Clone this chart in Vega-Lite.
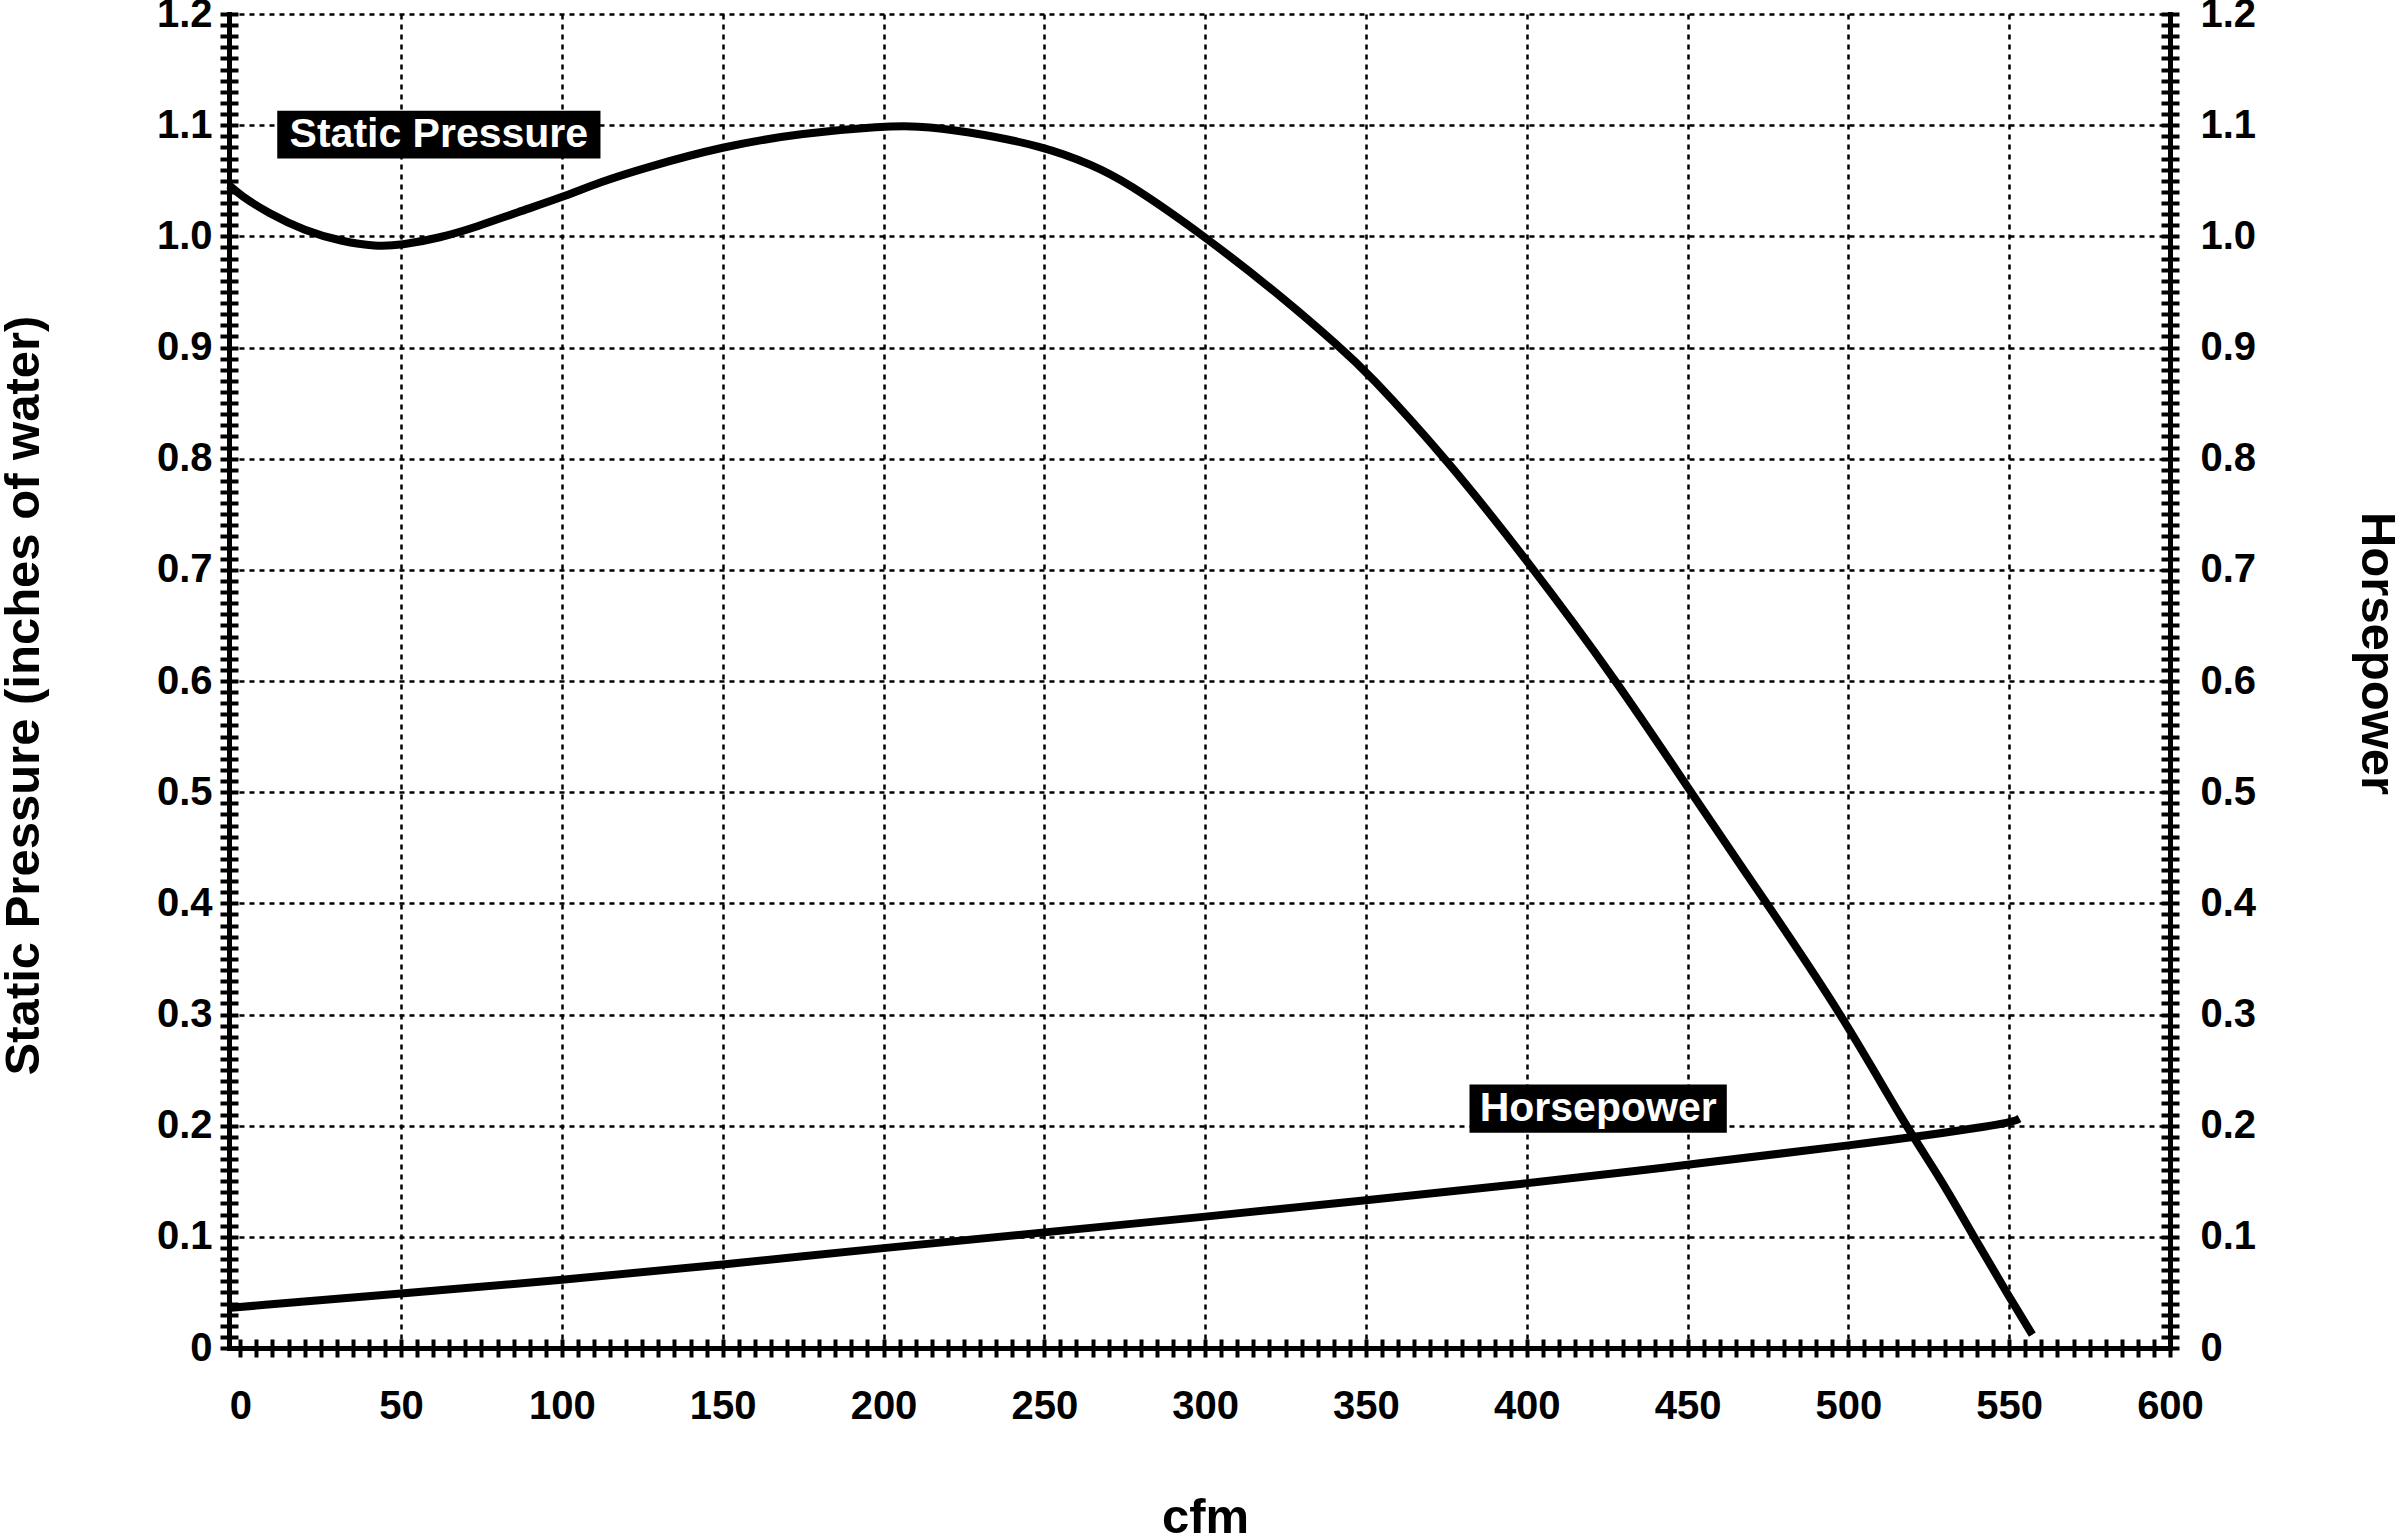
{
  "$schema": "https://vega.github.io/schema/vega-lite/v6.json",
  "autosize": {"type": "none"},
  "padding": {"left": 229, "top": 14, "right": 231, "bottom": 189},
  "width": 1941,
  "height": 1334,
  "background": "white",
  "config": {
    "font": "Liberation Sans",
    "view": {"stroke": null},
    "axis": {
      "domainColor": "black", "domainWidth": 5, "domainCap": "square",
      "tickColor": "black", "tickWidth": 4,
      "gridColor": "black", "gridWidth": 2.5, "gridDash": [5, 5],
      "labelFont": "Liberation Sans", "labelFontSize": 40, "labelFontWeight": "bold", "labelColor": "black",
      "labelOverlap": false, "labelFlush": false,
      "titleFont": "Liberation Sans", "titleFontSize": 49, "titleFontWeight": "bold", "titleColor": "black"
    }
  },
  "datasets": {
    "sp": [
      {"cfm": -3.5, "value": 1.046}, {"cfm": 0, "value": 1.037}, {"cfm": 8.6, "value": 1.021},
      {"cfm": 20, "value": 1.005}, {"cfm": 32, "value": 0.995}, {"cfm": 42, "value": 0.991},
      {"cfm": 50, "value": 0.992}, {"cfm": 62, "value": 0.9985}, {"cfm": 74, "value": 1.009},
      {"cfm": 86, "value": 1.0215}, {"cfm": 100, "value": 1.035}, {"cfm": 112, "value": 1.049},
      {"cfm": 125, "value": 1.061}, {"cfm": 150, "value": 1.081}, {"cfm": 175, "value": 1.093},
      {"cfm": 200, "value": 1.099}, {"cfm": 210, "value": 1.0995}, {"cfm": 225, "value": 1.095},
      {"cfm": 250, "value": 1.081}, {"cfm": 265, "value": 1.064}, {"cfm": 275, "value": 1.05},
      {"cfm": 300, "value": 1.0}, {"cfm": 325, "value": 0.943}, {"cfm": 342, "value": 0.9},
      {"cfm": 350, "value": 0.879}, {"cfm": 375, "value": 0.8}, {"cfm": 400, "value": 0.709},
      {"cfm": 428, "value": 0.6}, {"cfm": 451, "value": 0.5}, {"cfm": 474.6, "value": 0.4},
      {"cfm": 498, "value": 0.3}, {"cfm": 517.7, "value": 0.2}, {"cfm": 528.6, "value": 0.153},
      {"cfm": 539, "value": 0.1}, {"cfm": 550, "value": 0.046}, {"cfm": 557.2, "value": 0.012}
    ],
    "hp": [
      {"cfm": -3.5, "value": 0.036}, {"cfm": 0, "value": 0.037}, {"cfm": 50, "value": 0.049},
      {"cfm": 100, "value": 0.061}, {"cfm": 150, "value": 0.075}, {"cfm": 200, "value": 0.09},
      {"cfm": 250, "value": 0.104}, {"cfm": 300, "value": 0.118}, {"cfm": 350, "value": 0.133},
      {"cfm": 400, "value": 0.148}, {"cfm": 438, "value": 0.1605}, {"cfm": 450, "value": 0.165},
      {"cfm": 500, "value": 0.1818}, {"cfm": 550, "value": 0.2015}, {"cfm": 553.2, "value": 0.2064}
    ],
    "labels": [
      {"label": "Static Pressure", "x1": 11.5, "x2": 112, "y1": 1.07, "y2": 1.113, "tx": 61.75, "ty": 1.0915},
      {"label": "Horsepower", "x1": 382.2, "x2": 462.2, "y1": 0.1936, "y2": 0.237, "tx": 422.2, "ty": 0.2153}
    ]
  },
  "resolve": {"axis": {"x": "independent", "y": "independent"}},
  "layer": [
    {
      "data": {"name": "sp"},
      "mark": {"type": "line", "color": "black", "strokeWidth": 8, "interpolate": "basis"},
      "encoding": {
        "x": {
          "field": "cfm", "type": "quantitative",
          "scale": {"domain": [-3.5, 600], "nice": false, "zero": false},
          "axis": {
            "orient": "bottom",
            "values": [0,5,10,15,20,25,30,35,40,45,50,55,60,65,70,75,80,85,90,95,100,105,110,115,120,125,130,135,140,145,150,155,160,165,170,175,180,185,190,195,200,205,210,215,220,225,230,235,240,245,250,255,260,265,270,275,280,285,290,295,300,305,310,315,320,325,330,335,340,345,350,355,360,365,370,375,380,385,390,395,400,405,410,415,420,425,430,435,440,445,450,455,460,465,470,475,480,485,490,495,500,505,510,515,520,525,530,535,540,545,550,555,560,565,570,575,580,585,590,595,600],
            "domain": true, "ticks": true, "tickSize": 9,
            "grid": true,
            "gridOpacity": {"condition": {"test": "datum.value % 50 != 0 || datum.value == 0", "value": 0}, "value": 1},
            "labelExpr": "datum.value % 50 == 0 ? datum.label : ''",
            "labelPadding": 29,
            "title": "cfm", "titleX": 976, "titleY": 184, "titleBaseline": "alphabetic", "titleAlign": "center"
          }
        },
        "y": {
          "field": "value", "type": "quantitative",
          "scale": {"domain": [0, 1.2], "nice": false, "zero": false},
          "axis": {
            "orient": "left",
            "values": [0,0.01,0.02,0.03,0.04,0.05,0.06,0.07,0.08,0.09,0.1,0.11,0.12,0.13,0.14,0.15,0.16,0.17,0.18,0.19,0.2,0.21,0.22,0.23,0.24,0.25,0.26,0.27,0.28,0.29,0.3,0.31,0.32,0.33,0.34,0.35,0.36,0.37,0.38,0.39,0.4,0.41,0.42,0.43,0.44,0.45,0.46,0.47,0.48,0.49,0.5,0.51,0.52,0.53,0.54,0.55,0.56,0.57,0.58,0.59,0.6,0.61,0.62,0.63,0.64,0.65,0.66,0.67,0.68,0.69,0.7,0.71,0.72,0.73,0.74,0.75,0.76,0.77,0.78,0.79,0.8,0.81,0.82,0.83,0.84,0.85,0.86,0.87,0.88,0.89,0.9,0.91,0.92,0.93,0.94,0.95,0.96,0.97,0.98,0.99,1.0,1.01,1.02,1.03,1.04,1.05,1.06,1.07,1.08,1.09,1.1,1.11,1.12,1.13,1.14,1.15,1.16,1.17,1.18,1.19,1.2],
            "domain": true, "ticks": true, "tickSize": 9,
            "grid": true,
            "gridOpacity": {"condition": {"test": "round(datum.value * 100) % 10 != 0 || datum.value == 0", "value": 0}, "value": 1},
            "labelExpr": "round(datum.value * 100) % 10 == 0 ? (datum.value == 0 ? '0' : format(datum.value, '.1f')) : ''",
            "labelPadding": 8,
            "title": "Static Pressure (inches of water)",
            "titleAngle": 270, "titleX": -191, "titleY": 681, "titleBaseline": "alphabetic", "titleAlign": "center"
          }
        }
      }
    },
    {
      "data": {"name": "hp"},
      "mark": {"type": "line", "color": "black", "strokeWidth": 8, "interpolate": "basis"},
      "encoding": {
        "x": {
          "field": "cfm", "type": "quantitative",
          "scale": {"domain": [-3.5, 600], "nice": false, "zero": false},
          "axis": {
            "orient": "bottom",
            "values": [0,5,10,15,20,25,30,35,40,45,50,55,60,65,70,75,80,85,90,95,100,105,110,115,120,125,130,135,140,145,150,155,160,165,170,175,180,185,190,195,200,205,210,215,220,225,230,235,240,245,250,255,260,265,270,275,280,285,290,295,300,305,310,315,320,325,330,335,340,345,350,355,360,365,370,375,380,385,390,395,400,405,410,415,420,425,430,435,440,445,450,455,460,465,470,475,480,485,490,495,500,505,510,515,520,525,530,535,540,545,550,555,560,565,570,575,580,585,590,595,600],
            "domain": false, "ticks": true, "tickSize": -9, "labels": false, "grid": false, "title": null
          }
        },
        "y": {
          "field": "value", "type": "quantitative",
          "scale": {"domain": [0, 1.2], "nice": false, "zero": false},
          "axis": {
            "orient": "left",
            "values": [0,0.01,0.02,0.03,0.04,0.05,0.06,0.07,0.08,0.09,0.1,0.11,0.12,0.13,0.14,0.15,0.16,0.17,0.18,0.19,0.2,0.21,0.22,0.23,0.24,0.25,0.26,0.27,0.28,0.29,0.3,0.31,0.32,0.33,0.34,0.35,0.36,0.37,0.38,0.39,0.4,0.41,0.42,0.43,0.44,0.45,0.46,0.47,0.48,0.49,0.5,0.51,0.52,0.53,0.54,0.55,0.56,0.57,0.58,0.59,0.6,0.61,0.62,0.63,0.64,0.65,0.66,0.67,0.68,0.69,0.7,0.71,0.72,0.73,0.74,0.75,0.76,0.77,0.78,0.79,0.8,0.81,0.82,0.83,0.84,0.85,0.86,0.87,0.88,0.89,0.9,0.91,0.92,0.93,0.94,0.95,0.96,0.97,0.98,0.99,1.0,1.01,1.02,1.03,1.04,1.05,1.06,1.07,1.08,1.09,1.1,1.11,1.12,1.13,1.14,1.15,1.16,1.17,1.18,1.19,1.2],
            "domain": false, "ticks": true, "tickSize": -9, "labels": false, "grid": false, "title": null
          }
        }
      }
    },
    {
      "data": {"name": "labels"},
      "mark": {"type": "rect", "color": "black"},
      "encoding": {
        "x": {"field": "x1", "type": "quantitative", "scale": {"domain": [-3.5, 600], "nice": false, "zero": false}, "axis": null},
        "x2": {"field": "x2"},
        "y": {
          "field": "y1", "type": "quantitative",
          "scale": {"domain": [0, 1.2], "nice": false, "zero": false},
          "axis": {
            "orient": "right",
            "values": [0,0.01,0.02,0.03,0.04,0.05,0.06,0.07,0.08,0.09,0.1,0.11,0.12,0.13,0.14,0.15,0.16,0.17,0.18,0.19,0.2,0.21,0.22,0.23,0.24,0.25,0.26,0.27,0.28,0.29,0.3,0.31,0.32,0.33,0.34,0.35,0.36,0.37,0.38,0.39,0.4,0.41,0.42,0.43,0.44,0.45,0.46,0.47,0.48,0.49,0.5,0.51,0.52,0.53,0.54,0.55,0.56,0.57,0.58,0.59,0.6,0.61,0.62,0.63,0.64,0.65,0.66,0.67,0.68,0.69,0.7,0.71,0.72,0.73,0.74,0.75,0.76,0.77,0.78,0.79,0.8,0.81,0.82,0.83,0.84,0.85,0.86,0.87,0.88,0.89,0.9,0.91,0.92,0.93,0.94,0.95,0.96,0.97,0.98,0.99,1.0,1.01,1.02,1.03,1.04,1.05,1.06,1.07,1.08,1.09,1.1,1.11,1.12,1.13,1.14,1.15,1.16,1.17,1.18,1.19,1.2],
            "domain": true, "ticks": true, "tickSize": 9, "grid": false,
            "labelExpr": "round(datum.value * 100) % 10 == 0 ? (datum.value == 0 ? '0' : format(datum.value, '.1f')) : ''",
            "labelPadding": 21,
            "title": "Horsepower",
            "titleAngle": 90, "titleX": 191, "titleY": 639, "titleBaseline": "alphabetic", "titleAlign": "center"
          }
        },
        "y2": {"field": "y2"}
      }
    },
    {
      "data": {"name": "labels"},
      "mark": {"type": "text", "color": "white", "font": "Liberation Sans", "fontSize": 41, "fontWeight": "bold", "align": "center", "baseline": "middle"},
      "encoding": {
        "x": {"field": "tx", "type": "quantitative", "scale": {"domain": [-3.5, 600], "nice": false, "zero": false}, "axis": null},
        "y": {
          "field": "ty", "type": "quantitative",
          "scale": {"domain": [0, 1.2], "nice": false, "zero": false},
          "axis": {
            "orient": "right",
            "values": [0,0.01,0.02,0.03,0.04,0.05,0.06,0.07,0.08,0.09,0.1,0.11,0.12,0.13,0.14,0.15,0.16,0.17,0.18,0.19,0.2,0.21,0.22,0.23,0.24,0.25,0.26,0.27,0.28,0.29,0.3,0.31,0.32,0.33,0.34,0.35,0.36,0.37,0.38,0.39,0.4,0.41,0.42,0.43,0.44,0.45,0.46,0.47,0.48,0.49,0.5,0.51,0.52,0.53,0.54,0.55,0.56,0.57,0.58,0.59,0.6,0.61,0.62,0.63,0.64,0.65,0.66,0.67,0.68,0.69,0.7,0.71,0.72,0.73,0.74,0.75,0.76,0.77,0.78,0.79,0.8,0.81,0.82,0.83,0.84,0.85,0.86,0.87,0.88,0.89,0.9,0.91,0.92,0.93,0.94,0.95,0.96,0.97,0.98,0.99,1.0,1.01,1.02,1.03,1.04,1.05,1.06,1.07,1.08,1.09,1.1,1.11,1.12,1.13,1.14,1.15,1.16,1.17,1.18,1.19,1.2],
            "domain": false, "ticks": true, "tickSize": -9, "labels": false, "grid": false, "title": null
          }
        },
        "text": {"field": "label"}
      }
    }
  ]
}
